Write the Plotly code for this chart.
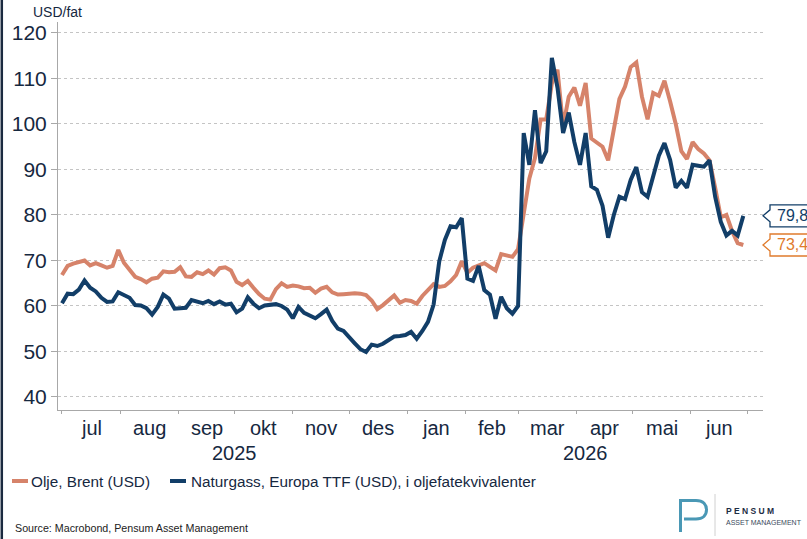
import plotly.graph_objects as go
import pandas as pd

# ---------------- data ----------------
dates = pd.date_range("2025-07-01", periods=122, freq="3D")

brent = [66.8, 68.8, 69.3, 69.6, 70.0, 68.9, 69.4, 68.9, 68.4, 68.8,
         72.3, 69.5, 67.8, 66.4, 65.9, 65.2, 66.0, 66.2, 67.6, 67.4,
         67.5, 68.5, 66.5, 66.4, 67.4, 67.0, 67.8, 66.9, 68.3, 68.5,
         67.8, 65.3, 64.6, 65.5, 64.0, 62.6, 61.6, 61.4, 63.7, 65.0,
         64.2, 64.5, 64.3, 63.9, 64.0, 62.9, 63.8, 64.2, 63.0, 62.5,
         62.6, 62.8, 62.8, 62.7, 62.4, 61.2, 59.3, 60.2, 61.4, 62.3,
         60.7, 61.3, 61.1, 60.5, 62.2, 63.5, 64.8, 64.2, 64.4, 65.4,
         66.8, 69.8, 67.3, 68.4, 68.8, 69.4, 68.6, 67.8, 71.4, 71.2,
         70.8, 72.5, 80.0, 88.0, 92.5, 101.0, 101.0, 108.9, 111.9, 99.4,
         106.0, 108.0, 104.0, 109.0, 96.8, 96.0, 95.0, 92.0, 99.0, 105.5,
         108.2, 112.5, 113.5, 106.0, 101.0, 106.8, 106.2, 109.5, 105.0, 100.0,
         94.0, 92.3, 96.0, 94.5, 93.5, 92.0, 86.0, 79.5, 80.0, 76.5,
         73.8, 73.4]

ttf = [60.6, 62.7, 62.6, 63.6, 65.6, 64.0, 63.2, 61.8, 60.9, 61.0,
       63.0, 62.5, 61.8, 60.2, 60.1, 59.5, 58.1, 59.8, 62.5, 61.6,
       59.4, 59.5, 59.6, 61.3, 60.9, 60.6, 61.1, 60.4, 61.0, 60.3,
       60.5, 58.6, 59.4, 61.9, 60.5, 59.5, 60.1, 60.3, 60.4, 60.0,
       59.2, 57.3, 59.8, 58.5, 58.0, 57.3, 58.2, 59.2, 56.7, 55.0,
       54.5, 53.0, 51.8, 50.5, 49.9, 51.5, 51.2, 51.7, 52.5, 53.3,
       53.4, 53.6, 54.3, 52.8, 54.5, 56.5, 60.3, 69.8, 74.5, 77.5,
       77.3, 79.3, 66.0, 65.5, 68.8, 63.5, 62.5, 57.2, 62.0, 59.5,
       58.3, 60.0, 98.0, 91.0, 103.0, 91.4, 94.0, 114.5, 108.0, 98.0,
       102.5, 96.0, 91.0, 98.0, 86.3, 85.5, 82.0, 75.0, 80.0, 84.0,
       83.5, 87.7, 90.5, 85.0, 84.0, 88.2, 93.0, 95.8, 92.1, 86.0,
       87.5, 86.0, 91.0, 90.8, 90.6, 92.0, 84.0, 78.5, 75.5, 76.5,
       75.5, 79.8]

series_names = ["Olje, Brent (USD)",
                "Naturgass, Europa TTF (USD), i oljefatekvivalenter"]
month_starts = pd.date_range("2025-07-01", "2026-07-01", freq="MS")
month_labels = ["jul", "aug", "sep", "okt", "nov", "des",
                "jan", "feb", "mar", "apr", "mai", "jun"]
year_labels = ["2025", "2026"]
y_ticks = [40, 50, 60, 70, 80, 90, 100, 110, 120]

# ---------------- style / layout ----------------
ORANGE = "#d6836a"
ORANGE_TXT = "#e07b2c"
NAVY = "#123e68"
TXT = "#16283f"
FONT = "Liberation Sans"

L, R, T, B = 58, 44, 22, 129
W = 807 - L - R
H = 539 - T - B
YMIN, YMAX = 37.14, 122.4
X0 = pd.Timestamp("2025-06-28 21:00")
X1 = pd.Timestamp("2026-07-09 12:00")


def px(x):
    return (x - L) / W


def py(y):
    return (T + H - y) / H


def vy(v):
    return (v - YMIN) / (YMAX - YMIN)


fig = go.Figure()
fig.add_trace(go.Scatter(x=dates, y=brent, mode="lines", name=series_names[0],
                         line=dict(color=ORANGE, width=4), showlegend=False))
fig.add_trace(go.Scatter(x=dates, y=ttf, mode="lines", name=series_names[1],
                         line=dict(color=NAVY, width=4), showlegend=False))

annotations = []
shapes = []

# month labels (centred in visible part of each month)
for i, lab in enumerate(month_labels):
    a = max(month_starts[i], X0)
    b = min(month_starts[i + 1], X1)
    mid = a + (b - a) / 2
    annotations.append(dict(x=mid, xref="x", y=py(428), yref="paper",
                            text=lab, showarrow=False, xanchor="center",
                            yanchor="middle",
                            font=dict(family=FONT, size=20, color=TXT)))
# year labels
year_spans = [(pd.Timestamp("2025-07-01"), pd.Timestamp("2026-01-01")),
              (pd.Timestamp("2026-01-01"), X1)]
for lab, (a, b) in zip(year_labels, year_spans):
    a = max(a, X0)
    mid = a + (b - a) / 2
    annotations.append(dict(x=mid, xref="x", y=py(453), yref="paper",
                            text=lab, showarrow=False, xanchor="center",
                            yanchor="middle",
                            font=dict(family=FONT, size=20, color=TXT)))

# unit label
annotations.append(dict(x=px(31), y=py(12), xref="paper", yref="paper",
                        text="USD/fat", showarrow=False, xanchor="left",
                        yanchor="middle",
                        font=dict(family=FONT, size=14, color=TXT)))

# legend (manual)
leg = [(ORANGE, 12, 29, series_names[0]), (NAVY, 170, 189, series_names[1])]
for col, x0, xt, name in leg:
    shapes.append(dict(type="line", xref="paper", yref="paper",
                       x0=px(x0), x1=px(x0 + 16), y0=py(481), y1=py(481),
                       line=dict(color=col, width=4)))
    annotations.append(dict(x=px(xt), y=py(481), xref="paper", yref="paper",
                            text=name, showarrow=False, xanchor="left",
                            yanchor="middle",
                            font=dict(family=FONT, size=15.3, color=TXT)))

# source
annotations.append(dict(x=px(13), y=py(528), xref="paper", yref="paper",
                        text="Source: Macrobond, Pensum Asset Management",
                        showarrow=False, xanchor="left", yanchor="middle",
                        font=dict(family=FONT, size=10.7, color="#222222")))

# end value labels
for val, col, tcol in [(ttf[-1], NAVY, NAVY), (brent[-1], ORANGE_TXT, ORANGE_TXT)]:
    yc = vy(val)
    hh = 11 / H
    nh = 6 / H
    xl, xt_, xr = px(770), 1.0, px(830)
    path = (f"M {xl},{yc + hh} L {xr},{yc + hh} L {xr},{yc - hh} "
            f"L {xl},{yc - hh} L {xl},{yc - nh} L {xt_},{yc} L {xl},{yc + nh} Z")
    shapes.append(dict(type="path", xref="paper", yref="paper", path=path,
                       fillcolor="white", line=dict(color=col, width=1.3)))
    annotations.append(dict(x=px(775), y=val, xref="paper", yref="y",
                            text=f"{val:.1f}".replace(".", ","),
                            showarrow=False, xanchor="left", yanchor="middle",
                            font=dict(family=FONT, size=16, color=tcol)))

# left border line
shapes.append(dict(type="line", xref="paper", yref="paper",
                   x0=px(1.8), x1=px(1.8), y0=py(539), y1=py(0),
                   line=dict(color="#1b2a40", width=2.5)))

# logo
pts = [(680.5, 532), (680.5, 500.5), (696, 500.5)]
p = f"M {px(pts[0][0])},{py(pts[0][1])} L {px(pts[1][0])},{py(pts[1][1])} L {px(pts[2][0])},{py(pts[2][1])} "
p += (f"C {px(703.5)},{py(500.5)} {px(706.5)},{py(505)} {px(706.5)},{py(509.8)} "
      f"C {px(706.5)},{py(515)} {px(703)},{py(519)} {px(696)},{py(519)} "
      f"L {px(684)},{py(519)}")
shapes.append(dict(type="path", xref="paper", yref="paper", path=p,
                   line=dict(color="#4a98b5", width=3)))
shapes.append(dict(type="line", xref="paper", yref="paper",
                   x0=px(715), x1=px(715), y0=py(494), y1=py(536),
                   line=dict(color="#d0d0d0", width=1)))
annotations.append(dict(x=px(724), y=py(511), xref="paper", yref="paper",
                        text="<b>P E N S U M</b>", showarrow=False,
                        xanchor="left", yanchor="middle",
                        font=dict(family=FONT, size=8.5, color="#1d2d44")))
annotations.append(dict(x=px(724), y=py(522), xref="paper", yref="paper",
                        text="ASSET MANAGEMENT", showarrow=False,
                        xanchor="left", yanchor="middle",
                        font=dict(family=FONT, size=7, color="#3a4a5c")))

fig.update_layout(
    width=807, height=539,
    margin=dict(l=L, r=R, t=T, b=B, autoexpand=False),
    paper_bgcolor="white", plot_bgcolor="white",
    showlegend=False,
    annotations=annotations, shapes=shapes,
    xaxis=dict(type="date", range=[X0, X1], tickvals=list(month_starts),
               showticklabels=False, ticks="outside", ticklen=3,
               tickcolor="#a8a8a8", showline=True, linecolor="#a8a8a8",
               linewidth=1, showgrid=False, zeroline=False),
    yaxis=dict(range=[YMIN, YMAX], tickvals=y_ticks, ticks="outside",
               ticklen=6, tickcolor="#a8a8a8", showline=True,
               linecolor="#a8a8a8", linewidth=1, showgrid=True,
               gridcolor="#c4c4c4", griddash="dot", gridwidth=1,
               zeroline=False,
               tickfont=dict(family=FONT, size=21, color=TXT)),
)

fig.write_html("out.html",
               config={"displayModeBar": False},
               post_script="document.body.style.margin='0';"
                           "document.body.style.overflow='hidden';")
